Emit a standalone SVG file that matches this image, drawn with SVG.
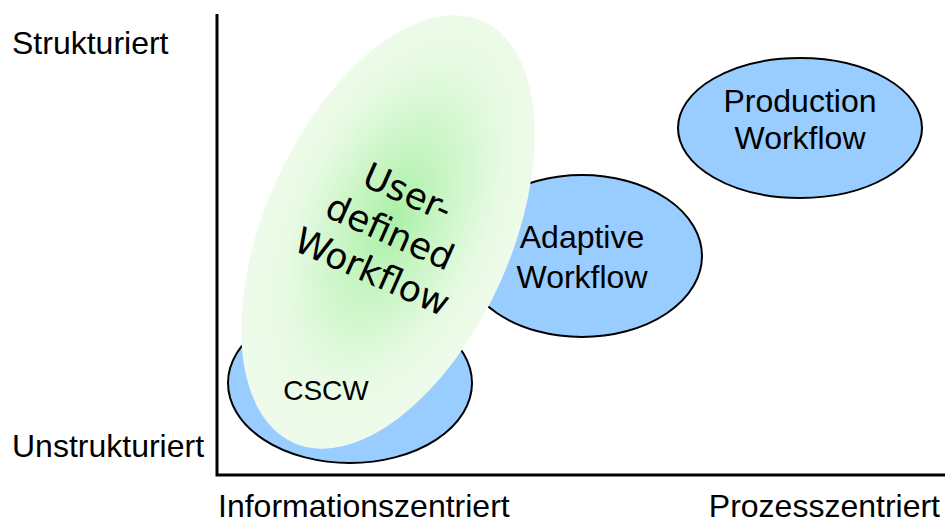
<svg xmlns="http://www.w3.org/2000/svg" width="945" height="523" viewBox="0 0 945 523">
<style>
.blue{fill:#99ccff;stroke:#000;stroke-width:2}
.lbl{font-family:"Liberation Sans",Arial,sans-serif;font-size:32px;fill:#000}
.udw{font-family:"DejaVu Sans",Verdana,sans-serif;font-size:36px;fill:#000;text-anchor:middle}
.axis{stroke:#000;stroke-width:3;fill:none}
</style>
<defs>
<radialGradient id="gr" cx="0.5" cy="0.47" r="0.5">
<stop offset="0" stop-color="#aaf0a6"/>
<stop offset="0.4" stop-color="#cdf6c9"/>
<stop offset="0.75" stop-color="#e8fae4"/>
<stop offset="1" stop-color="#eefbea"/>
</radialGradient>
</defs>
<g id="axes">
<path class="axis" d="M217,14 V475 H945"/>
</g>
<g id="labels">
<text class="lbl" x="12" y="54">Strukturiert</text>
<text class="lbl" x="12" y="457">Unstrukturiert</text>
<text class="lbl" x="218" y="517">Informationszentriert</text>
<text class="lbl" x="940" y="517" text-anchor="end">Prozesszentriert</text>
</g>
<g id="cscw">
<ellipse class="blue" cx="350" cy="383" rx="122" ry="80"/>
</g>
<g id="adaptive">
<ellipse class="blue" cx="582" cy="256" rx="120" ry="81"/>
<text class="lbl" x="582" y="248" text-anchor="middle">Adaptive</text>
<text class="lbl" x="582" y="288" text-anchor="middle">Workflow</text>
</g>
<g id="production">
<ellipse class="blue" cx="800" cy="128" rx="122" ry="70"/>
<text class="lbl" x="800" y="112" text-anchor="middle">Production</text>
<text class="lbl" x="800" y="149" text-anchor="middle">Workflow</text>
</g>
<g id="userdefined">
<ellipse cx="388" cy="232" rx="123" ry="231" transform="rotate(24.2 388 232)" fill="url(#gr)"/>
<text class="lbl" x="326" y="400" text-anchor="middle" style="font-size:28px">CSCW</text>
<g transform="translate(390,232) rotate(24)">
<text class="udw" x="0" y="-31">User-</text>
<text class="udw" x="0" y="12.5">defined</text>
<text class="udw" x="0" y="56">Workflow</text>
</g>
</g>
</svg>
